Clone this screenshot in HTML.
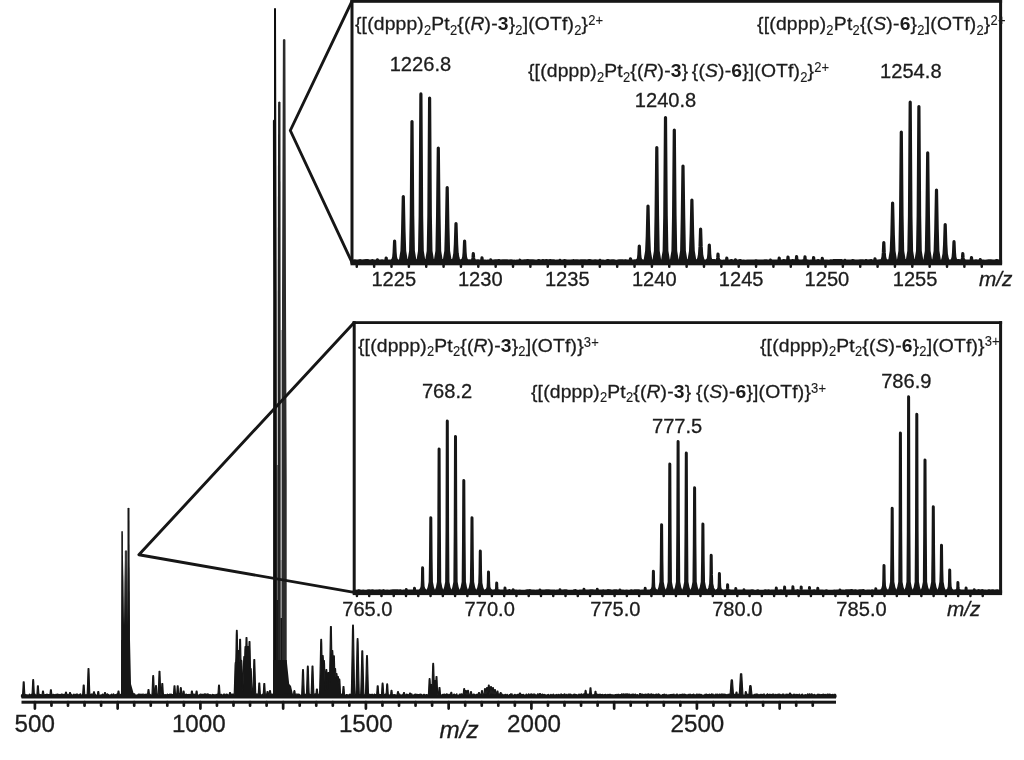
<!DOCTYPE html>
<html lang="en"><head><meta charset="utf-8"><title>ESI mass spectrum</title>
<style>
html,body{margin:0;padding:0;background:#fff;}
body{width:1024px;height:760px;position:relative;overflow:hidden;font-family:"Liberation Sans",sans-serif;color:#1c1c1c;}
.t{font-kerning:none;-webkit-text-stroke:0.3px #1c1c1c;position:absolute;white-space:nowrap;line-height:0;height:0;transform-origin:0 0;}
.fm{font-size:18.6px;letter-spacing:0.16px;transform:scaleX(1.038);}
.nm{font-size:20.1px;}
.big{font-size:24.2px;}
.ctr{transform:translateX(-50%);}
.it{font-style:italic;}
sub,sup{font-size:12.5px;line-height:0;position:relative;vertical-align:baseline;display:inline-block;transform:scaleY(1.12);-webkit-text-stroke:0.1px #1c1c1c;}
sub{top:3.4px;transform:scaleY(1.18);}
sup{top:-5.4px;}
b{font-weight:bold;-webkit-text-stroke:0;}
</style></head>
<body>
<svg width="1024" height="760" viewBox="0 0 1024 760" style="position:absolute;left:0;top:0">
<rect width="1024" height="760" fill="#fff"/>
<defs>
<linearGradient id="g1" gradientUnits="userSpaceOnUse" x1="0" y1="300" x2="0" y2="540"><stop offset="0" stop-color="#161616" stop-opacity="0"/><stop offset="0.4" stop-color="#161616" stop-opacity="0.3"/><stop offset="0.75" stop-color="#161616" stop-opacity="0.9"/><stop offset="1" stop-color="#161616" stop-opacity="1"/></linearGradient>
<linearGradient id="g2" gradientUnits="userSpaceOnUse" x1="0" y1="560" x2="0" y2="625"><stop offset="0" stop-color="#161616" stop-opacity="0"/><stop offset="0.35" stop-color="#161616" stop-opacity="0.45"/><stop offset="1" stop-color="#161616" stop-opacity="1"/></linearGradient>
</defs>
<path d="M121.3 697 V531.8 Q122.1 530.2 122.9 531.8 L123.4 697 Z" fill="#161616"/>
<path d="M124.8 697 V551 Q126 549.6 127.2 551 V697 Z" fill="#3a3a3a"/>
<path d="M127.5 697 V508.6 Q128.5 506.8 129.5 508.6 L130 697 Z" fill="#161616"/>
<rect x="121.3" y="560" width="8.6" height="137" fill="url(#g2)"/>
<path d="M121 697 L121.2 640 L130 640 L131 684 L133.5 693 L137 697 Z" fill="#161616"/>
<path d="M277.3 465 V697" stroke="#6e6e6e" stroke-width="1.2" fill="none"/>
<path d="M277.3 600 V697" stroke="#161616" stroke-width="1.4" fill="none"/>
<path d="M281.3 330 V697" stroke="#bdbdbd" stroke-width="1.6" fill="none"/>
<path d="M281.3 560 V697" stroke="#9a9a9a" stroke-width="1.6" fill="none"/>
<path d="M281.3 618 V697" stroke="#161616" stroke-width="1.8" fill="none"/>
<path d="M274 8.6 Q275 7.4 276 8.6 L276.7 300 L276.9 480 V697 H273.1 V480 L273.2 300 L272.9 120.5 L274 119.6 Z" fill="#0e0e0e"/>
<path d="M278.1 102.3 Q279.3 100.8 280.5 102.3 L280.6 300 V697 H277.7 V300 Z" fill="#242424"/>
<path d="M282.9 39.8 Q284.1 38.3 285.4 39.8 L286 300 L286.7 480 V697 H281.9 V480 L282 300 Z" fill="#2c2c2c"/>
<path d="M273 697 V660 H286.7 L287 663 L289.2 684 L291 686 L293.5 697 Z" fill="#161616"/>
<path d="M21.5 697 L21.5 694.91 L21.9 694.91 L22.1 695.17 L22.5 695.17 L22.7 693.09 L22.9 689.48 L23.1 685.58 L23.3 681.9 L24.1 681.9 L24.3 685.58 L24.5 689.48 L24.7 693.09 L24.9 694.85 L25.1 695.31 L25.5 695.31 L25.7 694.64 L26.1 694.64 L26.3 695.34 L26.7 695.34 L26.9 694.75 L27.3 694.75 L27.5 695.3 L28.5 695.26 L28.7 694.76 L29.1 694.76 L29.3 694.16 L29.7 694.16 L29.9 695.21 L30.3 695.21 L30.5 695.07 L30.9 695.07 L31.1 694.46 L31.5 694.46 L31.7 693.98 L32.1 693.98 L32.3 690.17 L32.5 685.93 L32.7 681.45 L32.9 679.6 L33.5 679.6 L33.7 681.45 L33.9 685.93 L34.1 690.17 L34.3 694.01 L34.5 695.33 L34.7 694.11 L35.1 694.11 L35.3 694.97 L35.7 694.97 L35.9 695.18 L36.7 695.22 L36.9 694.45 L37.1 691.73 L37.3 688.74 L37.5 685.9 L38.3 685.9 L38.5 688.74 L38.7 691.73 L38.9 694.45 L39.3 694.53 L39.9 694.44 L40.1 694.84 L40.5 694.84 L40.7 694.58 L41.1 694.58 L41.3 695.31 L41.9 695.31 L42.1 694.93 L42.3 693.38 L42.5 691.7 L42.7 691 L43.3 691 L43.5 691.7 L43.7 693.38 L43.9 694.76 L44.1 694.76 L44.3 694.93 L44.7 694.93 L44.9 694.52 L45.3 694.52 L45.5 694.72 L45.9 694.72 L46.1 694.95 L46.5 694.95 L46.7 694.21 L47.1 694.21 L47.3 694.35 L47.7 694.35 L47.9 695.03 L48.3 695.03 L48.5 694.54 L48.9 694.54 L49.5 694.61 L49.7 694.09 L49.9 694.09 L50.1 693.65 L50.5 689.8 L51.3 689.8 L51.7 693.65 L51.9 693.93 L52.1 695.22 L52.5 695.22 L52.7 694.77 L53.1 694.77 L53.3 694.26 L53.7 694.26 L53.9 695.17 L54.3 695.17 L54.5 694.67 L54.9 694.67 L55.1 695.34 L55.5 695.34 L55.7 694.4 L56.1 694.4 L56.3 694.25 L56.7 694.25 L56.9 694.54 L57.3 694.54 L57.5 694.09 L57.9 694.09 L58.1 694.93 L58.5 694.93 L58.7 694.36 L59.1 694.36 L59.3 694.51 L60.3 694.53 L60.5 694.72 L60.9 694.72 L61.1 694.14 L61.5 694.14 L61.7 693.98 L62.1 693.98 L62.3 694.69 L62.7 694.69 L62.9 694.4 L63.3 694.4 L63.5 695.31 L63.9 695.31 L64.1 694.35 L64.5 694.35 L65.1 694.43 L65.3 693.91 L65.5 692.66 L65.7 692.1 L66.3 692.1 L66.5 692.66 L66.7 694 L66.9 694.97 L67.1 694.82 L67.5 694.82 L67.7 694.4 L68.1 694.4 L68.3 695.37 L68.7 695.37 L68.9 694.71 L69.1 694.71 L69.3 694.28 L69.5 693.09 L69.7 692.6 L70.3 692.6 L70.5 693.09 L70.7 694.28 L70.9 695.31 L71.1 695.31 L71.3 694.25 L71.7 694.25 L71.9 695.21 L72.3 695.21 L72.5 695.03 L72.9 695.03 L73.1 694.81 L73.5 694.81 L73.7 694.09 L74.1 694.09 L74.3 695.28 L74.7 695.28 L74.9 694.73 L75.3 694.73 L75.5 694.58 L75.9 694.58 L76.1 694.07 L76.5 694.07 L77.1 694.17 L77.7 694.1 L77.9 694.98 L78.3 694.98 L78.5 694.78 L78.9 694.78 L79.5 694.86 L79.7 694.07 L80.1 694.07 L80.3 693.96 L80.7 693.96 L80.9 695.17 L81.9 695.14 L82.5 695.05 L82.7 694.21 L82.9 691.3 L83.1 688.12 L83.3 685.1 L84.1 685.1 L84.3 688.12 L84.5 691.3 L84.7 694.21 L84.9 695.01 L85.1 695.39 L85.5 695.39 L85.7 694.77 L86.1 694.77 L86.7 694.85 L86.9 694.55 L87.1 694.55 L87.3 691.97 L87.5 686.56 L87.7 680.68 L87.9 674.49 L88.1 668.7 L88.9 668.7 L89.1 674.49 L89.3 680.68 L89.5 686.56 L89.7 691.97 L89.9 694.39 L90.3 694.39 L90.5 695.32 L90.9 695.32 L91.1 694.05 L91.5 694.05 L91.7 694.23 L92.1 694.23 L92.3 694.09 L92.7 694.09 L92.9 694.2 L93.1 694.2 L93.3 693.84 L93.5 692.4 L93.7 691.8 L94.3 691.8 L94.5 692.4 L94.7 693.84 L94.9 695.15 L95.1 695.24 L95.3 694.45 L95.7 694.45 L95.9 695.31 L96.9 695.3 L97.1 695.09 L97.3 695.09 L97.5 694.43 L97.9 691.6 L98.7 691.6 L99.1 694.43 L99.3 695.32 L99.9 695.4 L100.1 695.17 L100.5 695.17 L101.1 695.25 L101.3 694.85 L101.7 694.85 L101.9 695.36 L102.3 695.36 L102.5 694.09 L102.9 694.09 L103.1 694.48 L103.5 694.48 L103.7 695.18 L104.1 695.18 L104.3 694.28 L104.5 693.09 L104.7 692.6 L105.3 692.6 L105.5 693.09 L105.7 694.28 L105.9 694.85 L106.1 695.22 L106.5 695.22 L106.7 694.13 L107.1 694.13 L107.3 693.91 L107.7 693.91 L107.9 694.7 L108.9 694.67 L109.1 695.27 L110.1 695.25 L110.3 694.89 L110.7 694.89 L110.9 695 L111.3 695 L111.5 694.16 L111.9 694.16 L112.1 695.16 L112.5 695.16 L112.7 695.37 L113.1 695.37 L113.3 693.97 L113.7 693.97 L113.9 694.61 L114.3 694.61 L114.5 695.18 L114.9 695.18 L115.1 694.59 L115.5 694.59 L115.7 695.36 L116.1 695.36 L116.3 694.61 L116.7 694.61 L116.9 693.93 L117.3 693.93 L117.5 694.11 L117.7 694.11 L118.1 691 L118.9 691 L119.3 694.18 L119.5 694.85 L119.7 694.85 L119.9 695.15 L120.3 695.15 L120.5 694.24 L120.9 694.24 L121.1 694.6 L121.5 694.6 L121.7 694.23 L122.1 694.23 L122.3 694.91 L122.7 694.91 L122.9 695.07 L123.3 695.07 L123.5 694.18 L123.9 694.18 L124.1 693.92 L124.5 693.92 L124.7 694.12 L125.1 694.12 L125.7 694.19 L126.3 694.17 L126.5 694.29 L126.9 694.29 L127.1 695.06 L127.5 695.06 L127.7 694.62 L128.1 694.62 L128.3 694.87 L128.7 694.87 L128.9 695.36 L129.9 695.36 L130.1 694.98 L131.1 695.01 L131.3 694.36 L131.7 694.36 L131.9 693.97 L132.3 693.97 L132.5 694.73 L132.9 694.73 L133.1 693.99 L133.5 693.99 L134.1 693.92 L134.7 693.97 L134.9 694.85 L135.3 694.85 L135.5 695.07 L136.5 695.06 L137.7 695.09 L137.9 694.46 L138.3 694.46 L138.5 694.05 L138.9 694.05 L139.5 694.14 L139.7 694.68 L140.1 694.68 L140.3 694.42 L140.7 694.42 L140.9 694.2 L141.3 694.2 L141.5 695.27 L141.9 695.27 L142.1 694.41 L142.5 694.41 L142.7 694.04 L143.1 694.04 L143.3 694.23 L144.3 694.27 L144.5 694.68 L144.9 694.68 L145.1 695.13 L145.5 695.13 L145.7 694.22 L146.1 694.22 L146.3 694.9 L146.7 694.9 L146.9 694.2 L147.3 694.2 L147.5 693.94 L147.7 693.56 L148.1 689.6 L148.9 689.6 L149.3 693.56 L149.5 693.98 L149.7 693.98 L149.9 694.31 L150.3 694.31 L150.5 695.14 L150.9 695.14 L151.5 695.21 L151.9 695.17 L152.1 692.53 L152.3 687.95 L152.5 682.98 L152.7 677.75 L152.9 675.6 L153.5 675.6 L153.7 677.75 L153.9 682.98 L154.1 687.95 L154.3 692.53 L154.5 694.16 L154.7 693.93 L154.9 693.93 L155.1 693.01 L155.3 690.06 L155.5 686.91 L155.7 685.6 L156.3 685.6 L156.5 686.91 L156.7 690.06 L156.9 693.01 L157.1 695.2 L157.5 695.2 L157.7 695.38 L158.1 695.38 L158.3 693.05 L158.5 688.04 L158.7 682.55 L158.9 676.74 L159.1 671.3 L159.9 671.3 L160.1 676.74 L160.3 682.55 L160.5 688.04 L160.7 693.05 L160.9 694.75 L161.1 694.75 L161.3 693.71 L161.5 690.47 L161.7 686.94 L161.9 683.6 L162.7 683.6 L162.9 686.94 L163.1 690.47 L163.3 693.71 L163.5 695.02 L164.1 694.96 L164.7 695.04 L164.9 694.52 L165.3 694.52 L165.5 695.01 L165.9 695.01 L166.1 694.77 L166.5 694.77 L166.7 695.2 L167.1 695.2 L167.3 694.03 L167.7 694.03 L167.9 694.87 L168.3 694.87 L168.5 694.71 L168.9 694.71 L169.1 694.52 L169.5 694.52 L169.7 694.04 L170.1 694.04 L170.3 694.77 L170.7 694.77 L170.9 694.02 L171.3 694.02 L171.5 694.65 L172.5 694.6 L173.1 694.61 L173.3 695.37 L173.5 694.45 L173.7 691.73 L173.9 688.74 L174.1 685.9 L174.9 685.9 L175.1 688.74 L175.3 691.73 L175.5 694.45 L175.7 694.2 L176.1 694.2 L176.3 695.14 L176.5 695.14 L176.7 694.45 L176.9 691.73 L177.1 688.74 L177.3 685.9 L178.1 685.9 L178.3 688.74 L178.5 691.73 L178.7 694.45 L178.9 694.91 L179.1 694.91 L179.3 694.62 L179.7 694.62 L179.9 693.76 L180.1 691.28 L180.3 688.61 L180.5 687.5 L181.1 687.5 L181.3 688.61 L181.5 691.28 L181.7 693.76 L181.9 694.56 L182.1 694.56 L182.3 695.03 L182.7 694.93 L182.9 693.38 L183.1 691.7 L183.3 691 L183.9 691 L184.1 691.7 L184.3 693.38 L184.5 694.64 L185.1 694.56 L185.3 694.26 L185.7 694.26 L185.9 694.03 L186.3 694.03 L186.5 694.74 L186.9 694.74 L187.1 694.48 L187.5 694.48 L187.7 694.64 L188.7 694.63 L188.9 694.36 L189.3 694.36 L189.5 694.72 L189.9 694.72 L190.1 694.6 L190.5 694.6 L190.9 694.68 L191.1 694.18 L191.5 691 L192.3 691 L192.7 694.09 L193.5 693.99 L193.7 695.01 L194.1 695.01 L194.3 694.56 L194.7 694.56 L194.9 693.99 L195.3 693.99 L195.5 694.14 L195.7 694.14 L195.9 693.38 L196.1 691.7 L196.3 691 L196.9 691 L197.1 691.7 L197.3 693.38 L197.5 694.74 L197.7 694.74 L197.9 695.29 L198.3 695.29 L198.5 695.04 L198.9 695.04 L199.1 695.29 L199.5 695.29 L199.7 694.4 L200.1 694.4 L200.3 694.22 L200.7 694.22 L200.9 694.05 L201.3 694.05 L201.5 695.17 L201.9 695.17 L202.1 694.33 L202.5 694.33 L203.1 694.41 L203.3 695.19 L203.7 695.19 L203.9 694.08 L204.3 694.08 L204.5 693.95 L204.9 693.95 L205.1 695.07 L205.5 695.07 L205.7 693.97 L206.1 693.97 L206.3 694.8 L206.7 694.8 L206.9 694.67 L207.3 694.67 L207.5 693.92 L207.9 693.92 L208.1 694.15 L208.5 694.15 L208.7 695.16 L209.1 695.16 L209.3 694.75 L209.7 694.75 L209.9 694.63 L210.3 694.63 L210.5 694.89 L210.9 694.89 L211.1 695.11 L211.5 695.11 L211.7 694.92 L212.1 694.92 L212.3 694.32 L212.7 694.32 L212.9 695.37 L213.3 695.37 L213.5 694.57 L213.9 694.57 L214.1 694.74 L214.5 694.74 L214.7 695.37 L215.1 695.37 L215.3 694.9 L215.7 694.9 L215.9 694.46 L216.3 694.46 L216.5 694.63 L216.9 694.63 L217.1 695.3 L217.5 695.3 L217.7 693.92 L217.9 693.92 L218.1 692.8 L218.3 689.74 L218.5 686.46 L218.7 685.1 L219.3 685.1 L219.5 686.46 L219.7 689.74 L219.9 692.8 L220.1 695 L220.5 695 L220.7 695.34 L221.1 695.34 L221.3 694.23 L221.7 694.23 L221.9 694.99 L222.3 694.99 L222.5 695.21 L222.9 695.21 L223.1 694.77 L223.5 694.77 L223.7 694.03 L224.1 694.03 L224.3 694.17 L224.7 694.17 L224.9 695.01 L225.3 695.01 L225.5 695.18 L225.9 695.18 L226.1 694.02 L226.5 694.02 L226.7 694.54 L227.1 694.54 L227.3 694.35 L227.7 694.35 L227.9 695.27 L228.9 695.31 L229.1 694.37 L229.3 694.28 L229.5 693.09 L229.7 692.6 L230.3 692.6 L230.5 693.09 L230.7 694.28 L230.9 693.99 L231.3 693.99 L231.5 694.45 L231.9 694.45 L232.1 694.2 L232.5 694.2 L232.7 695.27 L233.1 695.27 L233.3 694.12 L233.7 694.12 L233.9 695.3 L234.1 695.3 L234.3 691.94 L234.5 685.98 L234.7 679.49 L234.9 672.64 L235.1 665.52 L235.3 662.6 L235.7 662.6 L235.9 657.79 L236.1 646.61 L236.3 635.09 L236.5 630.4 L237.1 630.4 L237.3 635.09 L237.5 646.61 L237.7 657.79 L237.9 654.02 L238.1 650.6 L238.7 650.6 L238.9 654.02 L239.1 662.4 L239.3 658.18 L239.5 648.37 L239.7 639.3 L240.5 639.3 L240.7 648.37 L240.9 658.18 L241.1 660.6 L241.7 660.6 L241.9 663.61 L242.1 670.97 L242.3 678.06 L242.5 684.79 L242.7 691.01 L242.9 689.01 L243.1 682.3 L243.3 675.12 L243.5 667.59 L243.7 659.79 L243.9 656.6 L244.5 656.6 L244.7 658.89 L244.9 650.16 L245.1 646.6 L245.7 646.6 L245.9 646.86 L246.1 637.5 L246.9 637.5 L247.1 646.86 L247.3 656.98 L247.5 650.16 L247.7 646.6 L248.3 646.6 L248.5 650.16 L248.7 658.89 L248.9 650.3 L249.1 641.6 L249.9 641.6 L250.1 650.3 L250.3 659.72 L250.5 668.6 L251.1 668.6 L251.3 671.2 L251.5 677.54 L251.7 683.6 L251.9 689.29 L252.1 694.17 L252.3 694.17 L252.5 694.75 L252.7 694.75 L252.9 693.41 L253.1 687.44 L253.3 680.81 L253.5 673.77 L253.7 666.43 L253.9 659.6 L254.7 659.6 L254.9 666.43 L255.1 673.77 L255.3 680.81 L255.5 687.44 L255.7 693.41 L255.9 694.37 L256.1 693.93 L256.5 693.93 L256.7 694.89 L257.1 694.89 L257.3 694.15 L257.7 694.15 L257.9 694.34 L258.1 694.34 L258.3 693.53 L258.5 690.18 L258.7 686.54 L258.9 683.1 L259.7 683.1 L259.9 686.54 L260.1 690.18 L260.3 693.53 L260.5 695.32 L260.7 695.32 L260.9 695.21 L261.3 695.21 L261.9 695.29 L262.1 694.29 L262.5 694.29 L262.7 695.02 L263.1 695.02 L263.3 693.71 L263.5 690.47 L263.7 686.94 L263.9 683.6 L264.7 683.6 L264.9 686.94 L265.1 690.47 L265.3 693.71 L265.7 694.39 L266.1 694.39 L266.3 694.98 L266.5 694.98 L266.7 694.43 L267.1 691.6 L267.9 691.6 L268.3 694.43 L268.5 694.71 L268.7 695.16 L268.9 695.16 L269.1 694.81 L269.3 693.15 L269.5 691.35 L269.7 690.6 L270.3 690.6 L270.5 691.35 L270.7 693.15 L270.9 693.96 L271.5 693.94 L271.7 694.58 L272.1 694.58 L272.3 695.03 L272.7 695.03 L272.9 693.95 L273.3 693.95 L273.5 694.94 L273.9 694.94 L274.5 694.87 L274.7 695.4 L275.1 695.4 L275.3 694.83 L275.7 694.83 L275.9 694.69 L276.9 694.65 L277.1 695.1 L277.5 695.1 L277.7 694.64 L278.1 694.64 L278.3 695.39 L278.7 695.39 L278.9 695 L279.3 695 L279.5 695.27 L279.9 695.27 L280.1 694.8 L280.5 694.8 L280.7 695.34 L281.7 695.37 L281.9 694.94 L282.3 694.94 L282.5 695.05 L282.9 695.05 L283.1 694.52 L283.5 694.52 L284.1 694.61 L284.3 694.27 L284.7 694.27 L284.9 694.41 L285.3 694.41 L285.9 694.33 L286.1 694.08 L286.5 694.08 L286.7 694.82 L287.1 694.82 L287.7 694.91 L287.9 693.92 L288.3 693.92 L288.5 695.18 L288.9 695.18 L289.1 694.31 L289.5 694.31 L289.7 694.44 L290.1 694.44 L290.3 695.33 L290.7 695.33 L290.9 694.15 L291.3 694.15 L291.9 694.06 L292.1 694.46 L292.5 694.46 L292.7 694.3 L293.1 694.3 L293.3 694.18 L293.5 694.18 L293.7 693.15 L293.9 691.35 L294.1 690.6 L294.7 690.6 L294.9 691.35 L295.1 693.15 L295.3 694.64 L295.5 694.64 L295.7 694.15 L296.7 694.19 L297.3 694.16 L297.5 694.52 L297.9 694.52 L298.1 694.06 L298.5 694.06 L298.7 694.38 L299.7 694.36 L299.9 695.06 L300.3 695.06 L300.5 695.35 L300.9 695.35 L301.1 695.2 L301.5 695.2 L301.7 694.69 L301.9 689.79 L302.1 684.25 L302.3 678.33 L302.5 672.14 L302.7 669.6 L303.3 669.6 L303.5 672.14 L303.7 678.33 L303.9 684.25 L304.1 689.79 L304.3 694.46 L305.1 694.46 L305.7 694.38 L305.9 694.67 L306.3 694.67 L306.5 693.42 L306.7 687.96 L306.9 681.93 L307.1 675.52 L307.3 668.84 L307.5 666.1 L308.1 666.1 L308.3 668.84 L308.5 675.52 L308.7 681.93 L308.9 687.96 L309.1 693.42 L309.3 694.6 L309.5 694.41 L309.9 694.41 L310.1 695.3 L310.5 695.3 L310.7 694.29 L311.1 694.29 L311.3 690.79 L311.5 685 L311.7 678.76 L311.9 672.21 L312.1 666.1 L312.9 666.1 L313.1 672.21 L313.3 678.76 L313.5 685 L313.7 690.79 L313.9 695.09 L314.1 695.09 L314.3 694.29 L314.7 694.29 L314.9 693.94 L315.3 693.94 L315.5 694.66 L315.9 694.66 L316.1 693.33 L316.5 689.1 L317.3 689.1 L317.7 693.33 L317.9 694.25 L318.3 694.25 L318.5 694.47 L319.5 694.44 L319.7 689.29 L319.9 681.12 L320.1 672.28 L320.3 662.97 L320.5 653.31 L320.7 643.36 L320.9 639.3 L321.5 639.3 L321.7 643.36 L321.9 653.31 L322.1 662.97 L322.3 658.83 L322.5 655.6 L323.1 655.6 L323.3 658.83 L323.5 663.61 L323.7 660.6 L324.3 660.6 L324.5 663.61 L324.7 670.97 L324.9 678.06 L325.1 684.79 L325.3 689.79 L325.5 684.25 L325.7 678.33 L325.9 672.14 L326.1 669.6 L326.7 669.6 L326.9 672.14 L327.1 678.33 L327.3 684.25 L327.5 688.75 L327.7 683.46 L327.9 677.85 L328.1 672.6 L328.9 672.6 L329.1 677.85 L329.3 683.46 L329.5 682.92 L329.7 672.46 L329.9 661.33 L330.1 649.71 L330.3 637.7 L330.5 626.6 L331.3 626.6 L331.5 637.7 L331.7 649.71 L331.9 654.02 L332.1 650.6 L332.7 650.6 L332.9 654.02 L333.1 662.4 L333.3 663.08 L333.5 655.9 L334.3 655.9 L334.5 663.08 L334.7 670.83 L334.9 668.6 L335.5 668.6 L335.7 671.2 L335.9 677.54 L336.1 675.89 L336.3 673.6 L336.9 673.6 L337.1 675.89 L337.3 681.46 L337.5 678.68 L337.7 676.6 L338.3 676.6 L338.5 678.68 L338.7 683.73 L338.9 681.08 L339.1 679.2 L339.7 679.2 L339.9 681.08 L340.1 685.65 L340.3 689.95 L340.5 693.87 L340.7 694.17 L341.1 694.17 L341.3 694.64 L341.7 694.64 L341.9 694.07 L342.3 694.07 L342.5 694.34 L342.7 692.04 L342.9 689.2 L343.1 686.5 L343.9 686.5 L344.1 689.2 L344.3 692.04 L344.5 694.62 L344.7 694.67 L344.9 695.36 L345.9 695.39 L346.1 694.66 L346.5 694.66 L347.1 694.72 L347.3 694.95 L347.7 694.95 L347.9 695.19 L348.3 695.19 L348.5 694.88 L349.5 694.93 L349.7 694.14 L350.1 694.14 L350.3 695.4 L350.7 695.4 L350.9 694.27 L351.3 694.27 L351.5 687.61 L351.7 677.39 L351.9 666.34 L352.1 654.7 L352.3 642.62 L352.5 630.17 L352.7 625.1 L353.3 625.1 L353.5 630.17 L353.7 642.62 L353.9 654.7 L354.1 666.34 L354.3 677.39 L354.5 687.61 L354.7 694.97 L354.9 694.97 L355.1 694.84 L355.9 694.81 L356.1 689.2 L356.3 680.91 L356.5 671.94 L356.7 662.51 L356.9 652.71 L357.1 642.61 L357.3 638.5 L357.9 638.5 L358.1 642.61 L358.3 652.71 L358.5 662.51 L358.7 671.94 L358.9 680.91 L359.1 689.2 L359.3 695.33 L359.7 695.33 L360.3 695.25 L360.5 694.15 L360.7 694.15 L360.9 689.28 L361.1 682.24 L361.3 674.68 L361.5 666.75 L361.7 658.52 L361.9 650.9 L362.7 650.9 L362.9 658.52 L363.1 666.75 L363.3 674.68 L363.5 682.24 L363.7 689.28 L363.9 694.63 L364.1 695.12 L364.5 695.12 L364.7 694.84 L365.1 694.84 L365.3 693.97 L365.5 693.97 L365.7 688.42 L365.9 681.59 L366.1 674.29 L366.3 666.65 L366.5 658.73 L366.7 655.5 L367.3 655.5 L367.5 658.73 L367.7 666.65 L367.9 674.29 L368.1 681.59 L368.3 688.42 L368.5 693.99 L368.7 693.99 L368.9 694.58 L369.3 694.58 L369.5 694.32 L369.9 694.32 L370.1 695.33 L370.5 695.33 L370.7 694.3 L371.1 694.3 L371.3 694.72 L371.7 694.72 L371.9 694.27 L372.3 694.27 L372.5 694.43 L372.9 694.43 L373.1 694.97 L373.5 694.97 L373.7 695.33 L374.1 695.33 L374.3 694.01 L374.7 694.01 L374.9 695.21 L375.3 695.21 L375.5 694.69 L375.9 694.69 L376.1 694.88 L376.5 694.88 L376.7 694.45 L376.9 691.73 L377.1 688.74 L377.3 685.9 L378.1 685.9 L378.3 688.74 L378.5 691.73 L378.7 694.45 L378.9 695.01 L379.1 694.42 L379.5 694.42 L379.7 694.95 L380.1 694.95 L380.3 694.56 L380.7 694.56 L380.9 694.81 L381.3 694.81 L381.5 695.02 L381.7 691.9 L381.9 688.39 L382.1 684.65 L382.3 683.1 L382.9 683.1 L383.1 684.65 L383.3 688.39 L383.5 691.9 L383.7 694.04 L383.9 694.65 L384.3 694.65 L384.5 695.07 L384.9 695.07 L385.1 694.04 L385.5 694.04 L385.7 693.91 L386.1 693.91 L386.3 692.27 L386.5 688.93 L386.7 685.37 L386.9 683.9 L387.5 683.9 L387.7 685.37 L387.9 688.93 L388.1 692.27 L388.3 695.22 L388.5 695.26 L388.7 694.89 L389.1 694.89 L389.3 695.26 L389.7 695.26 L389.9 695.04 L390.5 695.01 L390.7 693.92 L391.1 690.4 L391.9 690.4 L392.3 693.92 L392.5 694.28 L392.7 694.28 L392.9 694.78 L393.9 694.78 L394.1 694.61 L394.5 694.61 L394.7 694.83 L395.1 694.83 L395.7 694.89 L395.9 695.31 L396.3 695.31 L396.5 694.98 L396.9 694.98 L397.1 693.95 L397.3 693.72 L397.5 692.22 L397.7 691.6 L398.3 691.6 L398.5 692.22 L398.7 693.72 L398.9 694.46 L399.3 694.46 L399.5 694.11 L399.9 694.11 L400.1 695.08 L400.5 695.08 L401.1 694.99 L401.7 695.03 L401.9 694.8 L402.3 694.8 L402.9 694.73 L403.1 693.97 L403.3 693.97 L403.5 693.09 L403.7 692.6 L404.3 692.6 L404.5 693.09 L404.7 694.09 L404.9 695.36 L405.9 695.35 L406.1 694.34 L406.5 694.34 L406.7 694.06 L407.1 694.06 L407.3 694.69 L407.7 694.69 L407.9 694.52 L408.3 694.52 L408.5 695.4 L408.9 695.4 L409.1 694.81 L409.3 694.55 L409.5 693.53 L409.7 693.1 L410.3 693.1 L410.5 693.53 L410.7 694.16 L411.3 694.12 L411.5 693.94 L411.9 693.94 L412.1 695.03 L412.5 695.03 L412.7 695.24 L413.1 695.24 L413.7 695.17 L413.9 694.62 L414.3 694.62 L414.5 694.38 L414.9 694.38 L415.1 693.99 L415.5 693.99 L415.7 694.32 L416.1 694.32 L416.3 694.43 L416.7 694.43 L416.9 694.25 L417.3 694.25 L417.5 694.71 L417.9 694.71 L418.1 694.57 L418.5 694.57 L418.7 695.34 L419.1 695.34 L419.3 694.23 L419.7 694.23 L419.9 695.05 L420.3 695.05 L420.5 694.02 L420.9 694.02 L421.1 694.43 L421.5 694.43 L421.7 694.94 L422.1 694.94 L422.3 695.21 L422.7 695.21 L422.9 695.02 L423.3 695.02 L423.5 694.45 L423.9 694.45 L424.5 694.35 L424.7 695.23 L425.1 695.23 L425.7 695.29 L425.9 694.61 L426.3 694.61 L426.9 694.53 L427.1 694.82 L427.5 694.82 L427.7 695.06 L428.1 695.06 L428.3 694.5 L428.5 693.67 L428.7 689.63 L428.9 685.21 L429.1 680.53 L429.3 678.6 L429.9 678.6 L430.1 680.53 L430.3 685.21 L430.5 689.63 L430.7 689.4 L430.9 686.01 L431.1 684.6 L431.7 684.6 L431.9 686.01 L432.1 686.45 L432.3 680.06 L432.5 673.31 L432.7 666.28 L432.9 663.4 L433.5 663.4 L433.7 666.28 L433.9 673.31 L434.1 680.06 L434.3 682.37 L434.5 680.6 L435.1 680.6 L435.3 682.37 L435.5 686.65 L435.7 686.17 L435.9 681.24 L436.1 676.6 L436.9 676.6 L437.1 681.24 L437.3 686.17 L437.5 690.79 L437.7 694.39 L437.9 694.77 L438.3 694.77 L438.5 694.89 L438.7 692.55 L438.9 689.96 L439.1 687.5 L439.9 687.5 L440.1 689.96 L440.3 692.55 L440.5 694.89 L440.7 695.06 L440.9 695.35 L441.3 695.35 L441.5 694.89 L441.9 694.89 L442.1 694.77 L442.5 694.77 L442.7 694.38 L443.1 694.38 L443.3 695.1 L443.7 695.1 L443.9 694.2 L444.3 694.2 L444.9 694.29 L445.1 694.64 L445.5 694.64 L445.7 695.09 L446.1 695.09 L446.3 693.95 L446.7 693.95 L446.9 694.93 L447.3 694.93 L447.5 694.17 L447.9 694.17 L448.1 695.05 L449.1 695.07 L449.3 694.26 L449.7 694.26 L449.9 694.96 L450.3 694.96 L450.5 693.97 L450.7 693.55 L450.9 692.4 L451.7 692.4 L452.1 694.75 L452.3 695.07 L452.7 695.07 L452.9 694.77 L453.3 694.77 L453.5 694.4 L453.9 694.4 L454.1 693.98 L454.5 693.98 L454.7 695.18 L455.1 695.18 L455.3 694.81 L455.7 694.81 L455.9 695.08 L456.3 695.08 L456.5 693.94 L456.9 693.94 L457.1 695.19 L457.5 695.19 L457.7 695.32 L458.7 695.31 L458.9 694.81 L459.3 694.81 L459.5 694.05 L460.5 694.07 L460.7 694.3 L461.1 694.3 L461.3 693.9 L461.7 693.9 L462.3 694 L462.5 694.91 L462.9 694.91 L463.1 695.12 L463.3 694.13 L463.5 691.9 L463.7 689.5 L463.9 688.5 L464.5 688.5 L464.7 689.5 L464.9 691.9 L465.1 694.13 L465.3 693.15 L465.5 691.35 L465.7 690.6 L466.3 690.6 L466.5 691.35 L466.7 693.15 L466.9 694.81 L467.1 694.75 L467.3 693.04 L467.5 691.18 L467.7 690.4 L468.3 690.4 L468.5 691.18 L468.7 693.04 L468.9 694.75 L469.1 694.98 L469.5 694.98 L469.7 694.87 L470.1 694.87 L470.3 693.72 L470.5 692.22 L470.7 691.6 L471.3 691.6 L471.5 692.22 L471.7 693.72 L471.9 693.95 L472.1 695.09 L472.5 695.09 L472.7 694.87 L473.1 694.87 L473.3 694.17 L474.3 694.17 L474.5 694.75 L474.9 694.75 L475.1 695.33 L475.5 695.33 L475.7 694.69 L476.1 694.69 L476.3 694.84 L476.7 694.84 L476.9 694.02 L477.3 694.02 L477.5 695.11 L477.9 695.11 L478.1 694.85 L478.3 694.28 L478.5 693.09 L478.7 692.6 L479.3 692.6 L479.5 693.09 L479.7 694.28 L479.9 694.78 L480.3 694.78 L480.5 694.18 L480.9 694.18 L481.1 694.25 L481.3 693.15 L481.5 691.35 L481.7 690.6 L482.3 690.6 L482.5 691.35 L482.7 693.15 L482.9 694.81 L483.1 695.31 L483.3 695.31 L483.5 694.02 L483.9 694.02 L484.1 694.16 L484.3 691.96 L484.5 689.59 L484.7 688.6 L485.3 688.6 L485.5 689.59 L485.7 691.96 L485.9 694.16 L486.1 693.8 L486.3 691.34 L486.5 688.7 L486.7 687.6 L487.3 687.6 L487.5 688.7 L487.7 691.34 L487.9 692.8 L488.1 689.74 L488.3 686.46 L488.5 685.1 L489.1 685.1 L489.3 686.46 L489.5 689.74 L489.7 692.8 L489.9 694.93 L490.1 693.41 L490.3 690.71 L490.5 687.8 L490.7 686.6 L491.3 686.6 L491.5 687.8 L491.7 690.71 L491.9 693.41 L492.1 693.8 L492.3 691.34 L492.5 688.7 L492.7 687.6 L493.3 687.6 L493.5 688.7 L493.7 691.34 L493.9 693.8 L494.1 694.5 L494.3 692.57 L494.5 690.47 L494.7 689.6 L495.3 689.6 L495.5 690.47 L495.7 692.57 L495.9 693.96 L496.5 693.97 L496.7 694.22 L497.1 691.1 L497.9 691.1 L498.3 694.22 L498.5 694.66 L498.9 694.66 L499.1 694.01 L499.5 694.01 L499.7 695.13 L499.9 694.83 L500.3 692.6 L501.1 692.6 L501.3 693.7 L501.5 694.17 L501.9 694.17 L502.5 694.24 L502.7 694.49 L503.1 694.49 L503.3 694.91 L504.3 694.92 L504.9 694.86 L505.1 694.23 L505.5 694.23 L505.7 695.28 L506.1 695.28 L506.3 695.1 L506.7 695.1 L506.9 694.27 L507.3 694.27 L507.5 695.03 L507.9 695.03 L508.1 695.3 L509.1 695.35 L509.3 694.57 L509.7 694.57 L509.9 694.91 L510.3 694.91 L510.5 693.93 L510.9 693.93 L511.1 694.07 L511.5 694.07 L511.7 693.92 L512.1 693.92 L512.3 695 L512.7 695 L512.9 695.27 L513.9 695.26 L514.1 694.65 L514.5 694.65 L514.7 694.34 L515.1 694.34 L515.3 694.73 L515.7 694.73 L515.9 695.05 L516.3 695.05 L516.5 694.77 L516.9 694.77 L517.1 694.47 L517.5 694.47 L518.1 694.39 L518.3 694.28 L518.7 694.28 L518.9 694.13 L519.3 694.13 L519.5 693.53 L519.7 693.1 L520.3 693.1 L520.5 693.53 L520.7 694.14 L521.1 694.14 L521.3 694.96 L521.7 694.96 L521.9 694.55 L522.3 694.55 L522.5 694.84 L522.9 694.84 L523.1 694.29 L523.5 694.29 L523.7 695.1 L524.1 695.1 L525.3 695.03 L525.5 695.17 L525.9 695.17 L526.1 694.07 L526.5 694.07 L526.7 694.53 L527.1 694.53 L527.3 694.91 L527.7 694.91 L527.9 694.81 L528.3 694.81 L528.5 693.91 L528.9 693.91 L529.1 694.64 L529.5 694.64 L529.7 695.05 L530.1 695.05 L530.3 694.19 L530.7 694.19 L530.9 694.42 L531.3 694.42 L531.5 693.91 L531.9 693.91 L532.1 695.25 L532.5 695.25 L532.7 694.69 L533.1 694.69 L533.3 694.17 L534.3 694.14 L534.5 694.03 L534.9 694.03 L535.1 695.34 L535.5 695.34 L535.7 694.96 L536.1 694.96 L536.3 695.22 L536.7 695.22 L536.9 695.12 L537.3 695.12 L537.5 693.94 L537.9 693.94 L538.1 694.53 L538.5 694.53 L538.7 694 L539.1 694 L539.3 694.81 L539.5 693.96 L539.7 693.6 L540.3 693.6 L540.5 693.96 L540.7 694.73 L540.9 694.73 L541.1 695.01 L541.5 695.01 L541.7 694.23 L542.1 694.23 L542.3 693.98 L542.7 693.98 L542.9 695.24 L543.3 695.24 L543.5 694.51 L544.5 694.47 L544.7 695.07 L545.1 695.07 L545.3 694.85 L545.7 694.85 L545.9 695.19 L546.3 695.19 L546.9 695.09 L547.5 695.02 L547.7 694.5 L548.1 694.5 L548.7 694.42 L548.9 695.09 L549.3 695.09 L549.5 695.38 L549.9 695.38 L550.1 694.91 L550.5 694.91 L550.7 694.38 L551.1 694.38 L551.3 695.12 L551.7 695.12 L551.9 694.93 L552.3 694.93 L552.5 695.09 L552.9 695.09 L553.1 694.21 L553.5 694.21 L553.7 694.58 L554.1 694.58 L554.3 695.31 L554.7 695.31 L555.3 695.25 L555.5 694.81 L555.9 694.81 L556.1 694.57 L556.5 694.57 L556.7 694.44 L557.1 694.44 L557.3 695.26 L557.7 695.26 L557.9 695.15 L558.3 695.15 L558.5 694.36 L558.9 694.36 L559.1 694.79 L559.5 694.79 L559.7 694.98 L560.7 694.94 L560.9 693.97 L561.3 693.97 L561.5 694.93 L561.9 694.93 L562.1 694.55 L562.5 694.55 L562.7 694.86 L563.1 694.86 L563.7 694.78 L563.9 694.1 L564.3 694.1 L564.5 693.91 L564.9 693.91 L565.1 694.85 L565.5 694.85 L565.7 695.1 L566.1 695.1 L566.3 694.31 L566.7 694.31 L566.9 695.09 L567.3 695.09 L567.5 695.39 L567.9 695.39 L568.1 694.05 L568.5 694.05 L568.7 694.76 L569.1 694.76 L569.3 694.17 L569.7 694.17 L569.9 694.79 L570.3 694.79 L570.5 694.08 L570.9 694.08 L571.1 694.71 L571.5 694.71 L571.7 695.16 L572.1 695.16 L572.3 695.38 L572.7 695.38 L572.9 694.57 L573.3 694.57 L573.5 694.44 L573.9 694.44 L574.1 694.04 L574.5 694.04 L574.7 695.27 L575.1 695.27 L575.3 694.47 L575.7 694.47 L575.9 694.84 L576.3 694.84 L576.5 694.64 L576.9 694.64 L577.1 695.18 L577.5 695.18 L577.7 694.98 L578.1 694.98 L578.3 694.62 L578.7 694.62 L578.9 694.01 L579.3 694.01 L579.5 695.24 L579.9 695.24 L580.1 694.66 L580.5 694.66 L580.7 694.19 L581.1 694.19 L581.3 693.95 L581.7 693.95 L581.9 695.1 L582.3 695.1 L582.5 695.21 L582.9 695.21 L583.1 693.99 L584.1 693.94 L584.3 694.68 L584.7 694.68 L584.9 693.04 L585.1 691.18 L585.3 690.4 L585.9 690.4 L586.1 691.18 L586.3 693.04 L586.5 694.75 L586.7 694.04 L587.1 694.04 L587.3 694.47 L587.7 694.47 L587.9 694.16 L588.3 694.16 L588.5 695.16 L588.9 695.16 L589.1 694.22 L589.5 694.22 L589.7 692.75 L589.9 690.27 L590.1 687.9 L590.9 687.9 L591.1 690.27 L591.3 692.75 L591.5 694.16 L591.9 694.16 L592.1 695.13 L592.5 695.13 L593.1 695.07 L593.3 694.8 L593.7 694.8 L593.9 694.62 L594.3 694.62 L594.5 694.82 L594.7 694.35 L595.1 691.4 L595.9 691.4 L596.3 694.31 L596.7 694.31 L596.9 694.05 L597.3 694.05 L597.5 695.34 L597.9 695.34 L598.1 694.56 L598.5 694.56 L598.7 694.26 L599.1 694.26 L599.3 695.34 L599.7 695.34 L599.9 694.14 L600.3 694.14 L600.5 695.22 L600.9 695.22 L601.1 694.5 L601.5 694.5 L602.1 694.57 L602.3 694.46 L602.7 694.46 L602.9 694.94 L603.3 694.94 L603.5 694.77 L603.9 694.77 L604.1 694.53 L604.5 694.53 L604.7 694.76 L605.1 694.76 L605.3 694.41 L605.7 694.41 L605.9 694.73 L606.9 694.74 L607.1 695.36 L607.5 695.36 L607.7 694.47 L608.1 694.47 L608.3 694.67 L608.7 694.67 L608.9 695.05 L609.3 695.05 L609.5 694.25 L610.5 694.23 L610.7 694.71 L611.1 694.71 L611.3 695.13 L611.7 695.13 L611.9 694.69 L612.3 694.69 L612.5 695.24 L613.5 695.21 L613.7 694.75 L614.1 694.75 L614.3 695.26 L614.7 695.26 L614.9 694.74 L615.3 694.74 L615.5 694.63 L615.9 694.63 L616.1 695.34 L616.5 695.34 L616.7 694.45 L617.1 694.45 L617.3 695.28 L617.7 695.28 L617.9 694.3 L618.3 694.3 L618.9 694.23 L619.1 694.63 L619.5 694.63 L619.7 695.32 L620.1 695.32 L620.3 694.64 L620.7 694.64 L620.9 694.83 L621.3 694.83 L621.5 693.97 L621.9 693.97 L622.1 695.2 L622.5 695.2 L622.7 694.11 L623.1 694.11 L623.3 693.91 L623.7 693.91 L623.9 694.3 L624.3 694.3 L624.5 694.18 L624.9 694.18 L625.1 695.11 L625.5 695.11 L625.7 693.93 L626.1 693.93 L626.3 694.66 L626.7 694.66 L626.9 693.97 L627.3 693.97 L627.9 694.03 L628.1 695.15 L628.5 695.15 L628.7 694.22 L629.1 694.22 L629.3 694 L629.7 694 L629.9 695.3 L630.3 695.3 L630.5 694.87 L630.9 694.87 L631.1 694.27 L631.5 694.27 L631.7 695.16 L632.1 695.16 L632.3 694.06 L632.7 694.06 L632.9 694.99 L633.3 694.99 L633.5 694.18 L633.9 694.18 L634.1 695.18 L634.5 695.18 L634.7 694.65 L635.1 694.65 L635.3 694.02 L635.7 694.02 L635.9 695.09 L636.3 695.09 L636.9 695.01 L637.1 694.64 L637.5 694.64 L637.7 694.92 L638.1 694.92 L638.3 695.34 L638.7 695.34 L638.9 695.13 L639.1 695.13 L639.3 694.81 L639.5 693.96 L639.7 693.6 L640.3 693.6 L640.7 694.38 L641.1 694.38 L641.3 694.06 L641.7 694.06 L641.9 695.15 L642.3 695.15 L642.5 694.22 L642.9 694.22 L643.1 695.23 L643.5 695.23 L643.7 694.6 L644.1 694.6 L644.3 694.45 L644.7 694.45 L644.9 694.86 L645.3 694.86 L645.5 694.09 L645.9 694.09 L646.1 694.57 L647.1 694.53 L647.3 694.08 L647.7 694.08 L647.9 695.24 L648.3 695.24 L648.5 693.91 L648.9 693.91 L649.1 694.46 L649.5 694.46 L649.7 694.81 L650.1 694.81 L650.3 694.2 L650.7 694.2 L650.9 695 L651.3 695 L651.5 693.91 L651.9 693.91 L652.1 694.53 L652.5 694.53 L652.7 694.86 L653.1 694.86 L653.3 694.25 L653.7 694.25 L653.9 694.74 L654.3 694.74 L654.5 695.13 L654.9 695.13 L655.1 694.28 L655.5 694.28 L655.7 695.33 L656.1 695.33 L656.3 694.17 L656.7 694.17 L656.9 695.02 L657.3 695.02 L657.5 694.44 L657.9 694.44 L658.1 693.92 L658.5 693.92 L658.7 694.52 L659.1 694.52 L659.3 694.4 L659.7 694.4 L659.9 694.93 L660.3 694.93 L660.5 695.4 L661.5 695.35 L661.7 695.18 L662.1 695.18 L662.3 694.48 L662.7 694.48 L662.9 694.75 L663.3 694.75 L663.5 694.63 L663.9 694.63 L664.1 694.06 L664.5 694.06 L664.7 695.2 L665.1 695.2 L665.3 695.06 L665.7 695.06 L665.9 694.42 L666.3 694.42 L666.5 695.37 L667.5 695.4 L667.7 694.87 L668.1 694.87 L668.3 695.24 L668.7 695.24 L668.9 694.86 L669.3 694.86 L669.5 695.06 L669.9 695.06 L670.1 694.52 L671.1 694.52 L671.3 695.09 L671.7 695.09 L671.9 694.46 L672.3 694.46 L672.5 694.69 L672.9 694.69 L673.1 695.2 L673.5 695.2 L673.7 694 L674.1 694 L674.3 695.03 L674.7 695.03 L674.9 695.18 L675.3 695.18 L675.9 695.26 L676.1 694.44 L676.5 694.44 L676.7 694.09 L677.1 694.09 L677.3 694.23 L677.7 694.23 L677.9 694.8 L678.3 694.8 L678.5 695 L678.9 695 L679.1 695.38 L679.5 695.38 L679.7 694.43 L680.1 694.43 L680.3 694.56 L680.7 694.56 L680.9 694.87 L681.3 694.87 L681.5 694.43 L681.9 694.43 L682.1 694.73 L682.5 694.73 L682.7 693.99 L683.1 693.99 L683.3 694.3 L683.7 694.3 L683.9 695.03 L684.3 695.03 L684.5 694.04 L684.9 694.04 L685.1 695.33 L685.5 695.33 L685.7 694.6 L686.1 694.6 L686.3 694.79 L686.7 694.79 L686.9 695.04 L687.3 695.04 L687.5 695.31 L687.9 695.31 L688.1 694.23 L688.5 694.23 L688.7 695.38 L689.1 695.38 L689.3 694.57 L689.7 694.57 L689.9 693.99 L690.3 693.99 L690.5 695.19 L690.9 695.19 L691.5 695.1 L691.7 694.49 L692.1 694.49 L692.3 694.64 L692.7 694.64 L692.9 694.44 L693.3 694.44 L693.5 694.18 L693.9 694.18 L694.1 695.14 L694.5 695.14 L694.7 694.94 L695.7 694.95 L695.9 695.33 L696.3 695.33 L696.5 694.07 L696.9 694.07 L697.1 694.23 L697.5 694.23 L697.7 694.33 L698.1 694.33 L698.3 695.39 L698.7 695.39 L698.9 694.13 L699.3 694.13 L699.5 694.28 L699.9 694.28 L700.1 694.7 L700.5 694.7 L700.7 694.29 L701.1 694.29 L701.3 694.72 L701.7 694.72 L701.9 695.06 L702.3 695.06 L702.5 695.24 L702.9 695.24 L703.1 695.05 L703.5 695.05 L703.7 695.34 L704.1 695.34 L704.3 694.9 L704.7 694.9 L704.9 694.28 L705.3 694.28 L705.9 694.36 L706.1 694.13 L706.5 694.13 L706.7 694.33 L707.1 694.33 L707.3 695 L707.7 695 L707.9 694.57 L708.3 694.57 L708.5 694.75 L708.9 694.75 L709.1 694.22 L709.5 694.22 L709.7 694.62 L710.1 694.62 L710.3 695 L710.7 695 L710.9 694.44 L711.3 694.44 L711.5 693.95 L711.9 693.95 L712.1 695.07 L712.5 695.07 L712.7 694.08 L713.1 694.08 L713.3 695.38 L713.7 695.38 L713.9 695.01 L714.9 695.05 L715.1 694.28 L715.5 694.28 L715.7 693.98 L716.1 693.98 L716.3 694.28 L716.7 694.28 L716.9 694.91 L717.3 694.91 L717.5 694.08 L717.9 694.08 L718.1 694.91 L718.5 694.91 L718.7 695.04 L719.1 695.04 L719.3 694.04 L719.7 694.04 L719.9 694.45 L720.3 694.45 L720.9 694.36 L721.5 694.4 L721.7 693.93 L722.1 693.93 L722.3 694.7 L722.7 694.7 L722.9 694.14 L723.3 694.14 L723.5 694.35 L723.9 694.35 L724.1 694.11 L724.5 694.11 L724.7 694.74 L725.1 694.74 L725.3 694.31 L725.7 694.31 L725.9 694.54 L726.3 694.54 L726.5 694.94 L726.9 694.94 L727.1 695.08 L727.5 695.08 L727.7 694.47 L728.1 694.47 L728.3 695.28 L728.7 695.28 L728.9 694.03 L729.3 694.03 L729.5 695.18 L729.9 695.18 L730.1 694.67 L730.3 692.28 L730.5 689.65 L730.7 686.86 L731.1 680.97 L731.3 679.9 L732.3 679.9 L732.5 680.97 L732.9 686.86 L733.1 689.65 L733.3 692.28 L733.5 694.67 L733.7 695.34 L734.1 695.34 L734.3 694.36 L734.7 694.36 L735.3 694.45 L735.7 694.35 L735.9 693.34 L736.1 692.1 L736.9 692.1 L737.3 694.51 L737.7 694.51 L737.9 694.85 L738.3 694.85 L738.5 694.17 L739.1 694.17 L739.3 693.98 L739.5 690.99 L739.7 687.73 L739.9 684.29 L740.1 680.71 L740.3 677.02 L740.5 673.8 L741.7 673.8 L741.9 677.02 L742.1 680.71 L742.3 684.29 L742.5 687.73 L742.7 690.99 L742.9 693.98 L743.1 695.24 L743.3 695.09 L743.7 695.09 L743.9 695.23 L744.3 695.23 L744.5 695.35 L744.7 695.35 L744.9 695.1 L745.1 693.72 L745.3 692.22 L745.5 691.6 L746.1 691.6 L746.3 692.22 L746.5 693.72 L746.7 694.45 L746.9 694.16 L747.3 694.16 L747.5 694.45 L747.9 694.45 L748.1 694.97 L748.5 694.97 L748.7 695.25 L748.9 694.36 L749.1 692.54 L749.5 688.51 L749.7 686.37 L749.9 685.6 L750.9 685.6 L751.1 686.37 L751.5 690.57 L751.7 692.54 L751.9 694.36 L752.1 694.76 L752.3 695.37 L752.7 695.37 L752.9 695.01 L753.9 694.98 L754.1 694.33 L754.5 694.33 L754.7 694.85 L755.1 694.85 L755.7 694.92 L755.9 693.95 L756.3 693.95 L756.5 694.64 L756.9 694.64 L757.1 694.12 L757.5 694.12 L757.7 694.47 L758.1 694.47 L758.3 695.35 L758.7 695.35 L758.9 694.78 L759.9 694.75 L760.1 694.24 L760.5 694.24 L760.7 694.88 L761.1 694.88 L761.3 694.34 L761.7 694.34 L761.9 694.59 L762.3 694.59 L762.5 695.08 L762.9 695.08 L763.1 694.11 L763.5 694.11 L763.7 695.26 L764.1 695.26 L764.3 694.17 L764.7 694.17 L764.9 695.14 L765.3 695.14 L765.5 695.4 L765.9 695.4 L766.1 695.1 L766.5 695.1 L766.7 694.26 L767.1 694.26 L767.3 693.93 L767.7 693.93 L767.9 695.39 L768.3 695.39 L768.5 694.66 L769.5 694.66 L769.7 694.2 L770.1 694.2 L770.3 695.12 L770.7 695.12 L770.9 694.66 L771.3 694.66 L771.5 694.88 L771.9 694.88 L772.1 694.15 L772.5 694.15 L772.7 695.01 L773.1 695.01 L773.3 693.98 L773.7 693.98 L773.9 694.97 L774.3 694.97 L774.5 695.08 L774.9 695.08 L775.1 694.35 L775.5 694.35 L775.7 694.65 L776.1 694.65 L776.3 695.24 L776.7 695.24 L776.9 694.45 L777.3 694.45 L777.5 695.28 L777.9 695.28 L778.1 694.22 L778.5 694.22 L778.7 694.35 L779.1 694.35 L779.3 694.22 L779.7 694.22 L779.9 694.46 L780.3 694.46 L780.5 694.87 L780.9 694.87 L782.1 694.81 L782.3 694.06 L782.7 694.06 L782.9 695.27 L783.3 695.27 L783.5 694.07 L783.9 694.07 L784.1 695.36 L784.5 695.36 L784.7 695.09 L785.1 695.09 L785.7 695.01 L785.9 694.05 L786.3 694.05 L786.5 694.65 L786.9 694.65 L787.1 694.83 L787.5 694.83 L787.7 694.07 L788.1 694.07 L788.3 695.05 L788.7 695.05 L788.9 694.71 L789.1 694.71 L789.3 694.55 L789.5 693.53 L789.7 693.1 L790.3 693.1 L790.5 693.53 L790.7 694.27 L791.1 694.27 L791.3 694.43 L791.7 694.43 L791.9 694.88 L792.9 694.91 L793.1 695.17 L793.5 695.17 L793.7 694.14 L794.1 694.14 L794.3 694.41 L794.7 694.41 L794.9 694.29 L795.3 694.29 L795.5 695.15 L795.9 695.15 L796.1 694.74 L796.5 694.74 L796.7 694.24 L797.1 694.24 L797.3 694.53 L797.7 694.53 L797.9 695.21 L798.3 695.21 L798.5 694.71 L798.9 694.71 L799.1 694.07 L799.5 694.07 L799.7 695.04 L800.1 695.04 L800.7 695.11 L800.9 694.95 L801.3 694.95 L801.5 694.35 L801.9 694.35 L802.1 694.13 L802.5 694.13 L802.7 695.17 L803.7 695.17 L803.9 695.03 L804.3 695.03 L804.5 694.91 L804.9 694.91 L805.1 694.62 L805.5 694.62 L805.7 695.16 L806.1 695.16 L806.3 694.91 L806.7 694.91 L806.9 695.12 L807.3 695.12 L807.5 693.94 L807.9 693.94 L808.1 694.31 L808.5 694.31 L808.7 695.25 L809.1 695.25 L809.3 693.96 L809.7 693.96 L809.9 695.25 L810.3 695.25 L810.5 694.82 L810.9 694.82 L811.1 693.92 L811.5 693.92 L811.7 694.21 L812.1 694.21 L812.7 694.3 L812.9 694.75 L813.3 694.75 L813.5 695.11 L813.9 695.11 L814.1 694.44 L814.5 694.44 L814.7 695.24 L815.1 695.24 L815.3 695.09 L815.7 695.09 L815.9 694.82 L816.3 694.82 L816.5 695.35 L816.9 695.35 L817.1 694.8 L817.5 694.8 L817.7 694.21 L818.1 694.21 L818.3 694.36 L818.7 694.36 L818.9 694.65 L819.3 694.65 L819.5 694.45 L819.9 694.45 L820.1 694.71 L820.5 694.71 L820.7 695.19 L821.1 695.19 L821.3 694.49 L821.7 694.49 L821.9 694.79 L822.3 694.79 L822.5 694.29 L822.9 694.29 L823.1 694.04 L823.5 694.04 L823.7 694.75 L824.1 694.75 L824.3 694.54 L824.7 694.54 L824.9 694.28 L825.3 694.28 L825.5 694.77 L825.9 694.77 L826.1 695.06 L826.5 695.06 L826.7 694.32 L827.1 694.32 L827.3 694.08 L827.7 694.08 L827.9 694.24 L828.3 694.24 L828.5 694.35 L828.9 694.35 L829.1 694.12 L829.5 694.12 L829.7 694.38 L830.1 694.38 L830.7 694.44 L830.9 694.72 L831.3 694.72 L831.5 694.93 L831.9 694.93 L832.1 694.46 L832.5 694.46 L832.7 695.25 L833.1 695.25 L833.3 694.77 L833.7 694.77 L833.9 694.23 L834.3 694.23 L834.5 694.33 L834.9 694.33 L835.1 694.46 L835.5 694.46 L835.7 695.02 L835.9 695.02 L836 697 Z" fill="#161616" stroke="#161616" stroke-width="1.2" stroke-linejoin="round"/>
<rect x="21.5" y="695" width="814.5" height="3.5" fill="#161616"/>
<rect x="21.5" y="700.7" width="814.5" height="3" fill="#161616"/>
<path d="M34.9 702 V708.6 M51.45 702 V705.7 M68 702 V705.7 M84.55 702 V705.7 M101.1 702 V705.7 M117.65 702 V708.6 M134.2 702 V705.7 M150.75 702 V705.7 M167.3 702 V705.7 M183.85 702 V705.7 M200.4 702 V708.6 M216.95 702 V705.7 M233.5 702 V705.7 M250.05 702 V705.7 M266.6 702 V705.7 M283.15 702 V708.6 M299.7 702 V705.7 M316.25 702 V705.7 M332.8 702 V705.7 M349.35 702 V705.7 M365.9 702 V708.6 M382.45 702 V705.7 M399 702 V705.7 M415.55 702 V705.7 M432.1 702 V705.7 M448.65 702 V708.6 M465.2 702 V705.7 M481.75 702 V705.7 M498.3 702 V705.7 M514.85 702 V705.7 M531.4 702 V708.6 M547.95 702 V705.7 M564.5 702 V705.7 M581.05 702 V705.7 M597.6 702 V705.7 M614.15 702 V708.6 M630.7 702 V705.7 M647.25 702 V705.7 M663.8 702 V705.7 M680.35 702 V705.7 M696.9 702 V708.6 M713.45 702 V705.7 M730 702 V705.7 M746.55 702 V705.7 M763.1 702 V705.7 M779.65 702 V708.6 M796.2 702 V705.7 M812.75 702 V705.7" stroke="#161616" stroke-width="2.7" stroke-linecap="round" fill="none"/>
<path d="M352 1.2 L290.3 130.5 L352 262.5" fill="none" stroke="#161616" stroke-width="2.9" stroke-linejoin="round"/>
<path d="M354.2 322.5 L138.9 554.8 L354.2 592.4" fill="none" stroke="#161616" stroke-width="2.9" stroke-linejoin="round"/>
<path d="M353 261 L354.7 260.89 L356.46 261.05 L358.16 261.09 L360.39 260.7 L362.35 261.17 L364.04 260.94 L366.31 260.58 L368.16 260.68 L370.24 261.3 L372.06 260.63 L373.93 260.98 L374.6 261 L376.91 260.9 L377.21 260.76 L377.39 260.46 L377.5 259.8 L377.61 260.46 L377.79 260.76 L378.09 260.9 L380.4 261 L382.1 260.96 L383.3 261 L385.43 260.76 L385.81 260.4 L386.03 259.65 L386.2 258 L386.37 259.65 L386.59 260.4 L386.97 260.76 L389.1 261 L390.8 261.21 L391.7 261 L393.1 259.41 L393.74 257.02 L394.16 252.04 L394.6 241.1 L395.04 252.04 L395.46 257.02 L396.1 259.41 L397.5 261 L399.2 260.88 L400.4 261 L401.1 256.5 L402 251 L402.6 232.02 L403.3 196.6 L404 232.02 L404.6 251 L405.5 256.5 L406.2 261 L407.9 260.72 L409.1 261 L409.8 256.5 L410.7 251 L411.3 216 L412 121.6 L412.7 216 L413.3 251 L414.2 256.5 L414.9 261 L416.6 260.86 L418 261 L418.7 256.5 L419.6 251 L420.2 216 L420.9 93.9 L421.6 216 L422.2 251 L423.1 256.5 L423.8 261 L425.5 260.65 L426.7 261 L427.4 256.5 L428.3 251 L428.9 216 L429.6 98.1 L430.3 216 L430.9 251 L431.8 256.5 L432.5 261 L434.2 260.83 L435.4 261 L436.1 256.5 L437 251 L437.6 216 L438.3 148.1 L439 216 L439.6 251 L440.5 256.5 L441.2 261 L442.9 260.77 L444.3 261 L445 256.5 L445.9 251 L446.5 227.97 L447.2 187.6 L447.9 227.97 L448.5 251 L449.4 256.5 L450.1 261 L451.8 260.56 L453.1 261 L454.06 258.01 L454.86 253.52 L455.39 244.17 L456 223.6 L456.61 244.17 L457.14 253.52 L457.94 258.01 L458.9 261 L460.6 260.89 L461.7 261 L463.1 259.41 L463.74 257.02 L464.16 252.04 L464.6 241.1 L465.04 252.04 L465.46 257.02 L466.1 259.41 L467.5 261 L469.2 260.83 L470.4 261 L472.27 260.41 L472.74 259.52 L473.03 257.67 L473.3 253.6 L473.57 257.67 L473.86 259.52 L474.33 260.41 L476.2 261 L477.9 260.73 L479.1 261 L481.23 260.75 L481.6 260.38 L481.83 259.61 L482 257.9 L482.17 259.61 L482.4 260.38 L482.77 260.75 L484.9 261 L486.6 261.3 L487.8 261 L490.12 260.91 L490.42 260.78 L490.6 260.5 L490.7 259.9 L490.8 260.5 L490.98 260.78 L491.28 260.91 L493.6 261 L495.3 260.73 L497.4 260.86 L498.91 260.65 L500.99 261.2 L502.92 260.93 L504.79 260.73 L507.05 260.83 L508.99 261.2 L511.11 260.92 L512.7 260.99 L514.12 261.22 L515.78 261.23 L517.1 261 L519.46 260.94 L519.75 260.84 L519.91 260.64 L520 260.2 L520.09 260.64 L520.25 260.84 L520.54 260.94 L522.9 261 L524.6 260.85 L526.15 260.89 L527.64 260.55 L529.66 260.77 L531.21 260.79 L532.99 260.89 L534.92 261.08 L536.59 261.29 L538.74 260.6 L540.87 261.27 L542.95 260.66 L545.08 261.06 L546.4 260.56 L548.65 261.07 L550.2 260.63 L551.64 260.74 L553.72 260.83 L555.17 261.27 L557.1 261 L559.48 260.94 L559.76 260.86 L559.92 260.69 L560 260.3 L560.08 260.69 L560.24 260.86 L560.52 260.94 L562.9 261 L564.6 260.68 L566.79 261.04 L568.87 261.08 L571.07 261.18 L573.21 260.71 L575.2 260.97 L577.24 260.9 L579.42 260.99 L580.99 260.74 L582.43 260.94 L583.78 260.92 L585.23 260.94 L587.03 260.98 L589.19 260.56 L591.33 260.92 L593.19 261.08 L595.33 260.85 L597.1 261 L599.49 260.95 L599.77 260.88 L599.92 260.73 L600 260.4 L600.08 260.73 L600.23 260.88 L600.51 260.95 L602.9 261 L604.6 261.32 L605.98 261.06 L607.91 260.57 L609.82 261.1 L612.05 260.81 L614.33 260.96 L616.12 261.27 L617.45 261.12 L619.38 260.82 L621.54 260.84 L623.31 260.97 L625.39 260.72 L627.6 261 L629.8 260.82 L630.15 260.56 L630.35 260.01 L630.5 258.8 L630.65 260.01 L630.85 260.56 L631.2 260.82 L633.4 261 L635.1 260.89 L636.4 261 L637.96 259.81 L638.54 258.02 L638.92 254.29 L639.3 246.1 L639.68 254.29 L640.06 258.02 L640.64 259.81 L642.2 261 L643.9 261.21 L645.1 261 L645.8 256.61 L646.7 251 L647.3 236.29 L648 206.1 L648.7 236.29 L649.3 251 L650.2 256.61 L650.9 261 L652.6 261.21 L653.9 261 L654.6 256.5 L655.5 251 L656.1 216 L656.8 147.6 L657.5 216 L658.1 251 L659 256.5 L659.7 261 L661.4 260.95 L662.6 261 L663.3 256.5 L664.2 251 L664.8 216 L665.5 117.6 L666.2 216 L666.8 251 L667.7 256.5 L668.4 261 L670.1 260.96 L671.4 261 L672.1 256.5 L673 251 L673.6 216 L674.3 130.1 L675 216 L675.6 251 L676.5 256.5 L677.2 261 L678.9 261.07 L680.1 261 L680.8 256.5 L681.7 251 L682.3 218.29 L683 166.1 L683.7 218.29 L684.3 251 L685.2 256.5 L685.9 261 L687.6 260.81 L689 261 L689.7 256.5 L690.6 251 L691.2 233.59 L691.9 200.1 L692.6 233.59 L693.2 251 L694.1 256.5 L694.8 261 L696.5 260.79 L697.7 261 L698.78 258.45 L699.54 254.62 L700.04 246.65 L700.6 229.1 L701.16 246.65 L701.66 254.62 L702.42 258.45 L703.5 261 L705.2 261.06 L706.4 261 L707.93 259.73 L708.52 257.82 L708.91 253.84 L709.3 245.1 L709.69 253.84 L710.08 257.82 L710.67 259.73 L712.2 261 L713.9 260.58 L715.1 261 L716.99 260.45 L717.45 259.62 L717.74 257.89 L718 254.1 L718.26 257.89 L718.55 259.62 L719.01 260.45 L720.9 261 L722.6 261.26 L723.9 261 L726.05 260.78 L726.42 260.44 L726.63 259.74 L726.8 258.2 L726.97 259.74 L727.18 260.44 L727.55 260.78 L729.7 261 L731.4 260.59 L732.6 261 L734.91 260.9 L735.21 260.76 L735.39 260.46 L735.5 259.8 L735.61 260.46 L735.79 260.76 L736.09 260.9 L738.4 261 L740.1 260.55 L741.59 261.29 L743.5 261.08 L745.59 261.28 L747.5 261.04 L749.43 261.11 L751.32 261.09 L752.84 261.08 L754.59 261.16 L755.99 260.7 L757.33 261.17 L759.55 261.07 L761.21 261.21 L763.3 261 L764.86 260.79 L766.58 260.8 L767.6 261 L769.93 260.92 L770.23 260.8 L770.4 260.55 L770.5 260 L770.6 260.55 L770.77 260.8 L771.07 260.92 L773.4 261 L775.1 261.06 L776.3 261 L778.45 260.78 L778.82 260.44 L779.03 259.74 L779.2 258.2 L779.37 259.74 L779.58 260.44 L779.95 260.78 L782.1 261 L783.8 260.59 L785.1 261 L787.16 260.68 L787.56 260.2 L787.8 259.2 L788 257 L788.2 259.2 L788.44 260.2 L788.84 260.68 L790.9 261 L792.6 260.58 L793.7 261 L795.74 260.65 L796.14 260.12 L796.39 259.02 L796.6 256.6 L796.81 259.02 L797.06 260.12 L797.46 260.65 L799.5 261 L801.2 261.2 L802.1 261 L804.15 260.66 L804.55 260.16 L804.8 259.11 L805 256.8 L805.2 259.11 L805.45 260.16 L805.85 260.66 L807.9 261 L809.6 261.28 L810.7 261 L812.8 260.72 L813.18 260.3 L813.41 259.43 L813.6 257.5 L813.79 259.43 L814.02 260.3 L814.4 260.72 L816.5 261 L818.2 260.56 L819.4 261 L821.57 260.79 L821.93 260.48 L822.14 259.83 L822.3 258.4 L822.46 259.83 L822.67 260.48 L823.03 260.79 L825.2 261 L826.9 261.02 L829.14 261.33 L830.91 260.88 L832.32 261.07 L833.83 260.67 L835.14 260.55 L837.13 260.65 L839.39 260.62 L841.56 260.65 L842.1 261 L844.48 260.94 L844.76 260.86 L844.92 260.69 L845 260.3 L845.08 260.69 L845.24 260.86 L845.52 260.94 L847.9 261 L849.6 261.13 L851.14 261.14 L852.63 260.59 L854.7 261.12 L856.86 261.13 L858.24 261.05 L860.25 260.92 L862.49 260.75 L864.75 261.12 L866.06 260.56 L868.01 261.2 L869.39 260.8 L871.42 260.68 L872.1 261 L874.31 260.83 L874.65 260.58 L874.86 260.06 L875 258.9 L875.14 260.06 L875.35 260.58 L875.69 260.83 L877.9 261 L879.6 260.94 L880.9 261 L882.34 259.52 L882.97 257.3 L883.37 252.68 L883.8 242.5 L884.23 252.68 L884.63 257.3 L885.26 259.52 L886.7 261 L888.4 260.84 L889.7 261 L890.4 256.5 L891.3 251 L891.9 234.9 L892.6 203 L893.3 234.9 L893.9 251 L894.8 256.5 L895.5 261 L897.2 260.9 L898.4 261 L899.1 256.5 L900 251 L900.6 216 L901.3 132 L902 216 L902.6 251 L903.5 256.5 L904.2 261 L905.9 260.67 L907.3 261 L908 256.5 L908.9 251 L909.5 216 L910.2 102.2 L910.9 216 L911.5 251 L912.4 256.5 L913.1 261 L914.8 260.84 L916 261 L916.7 256.5 L917.6 251 L918.2 216 L918.9 106.6 L919.6 216 L920.2 251 L921.1 256.5 L921.8 261 L923.5 261.05 L924.8 261 L925.5 256.5 L926.4 251 L927 216 L927.7 152.8 L928.4 216 L929 251 L929.9 256.5 L930.6 261 L932.3 260.86 L933.6 261 L934.3 256.5 L935.2 251 L935.8 229.09 L936.5 190.1 L937.2 229.09 L937.8 251 L938.7 256.5 L939.4 261 L941.1 261.31 L942.3 261 L943.28 258.09 L944.08 253.72 L944.6 244.62 L945.2 224.6 L945.8 244.62 L946.32 253.72 L947.12 258.09 L948.1 261 L949.8 261 L951.1 261 L952.52 259.46 L953.15 257.14 L953.57 252.31 L954 241.7 L954.43 252.31 L954.85 257.14 L955.48 259.46 L956.9 261 L958.6 260.6 L959.9 261 L961.77 260.41 L962.24 259.52 L962.53 257.67 L962.8 253.6 L963.07 257.67 L963.36 259.52 L963.83 260.41 L965.7 261 L967.4 261.11 L968.6 261 L970.71 260.74 L971.09 260.34 L971.32 259.52 L971.5 257.7 L971.68 259.52 L971.91 260.34 L972.29 260.74 L974.4 261 L976.1 260.82 L977.4 261 L979.68 260.89 L980 260.72 L980.18 260.37 L980.3 259.6 L980.42 260.37 L980.6 260.72 L980.92 260.89 L983.2 261 L984.9 261.33 L987.03 261.03 L988.64 260.89 L990.83 260.85 L992.81 261.03 L995.01 261.2 L996.59 260.55 L998.16 260.89 L1000 261" fill="#161616" stroke="#161616" stroke-width="3.2" stroke-linejoin="round"/>
<rect x="350.5" y="0" width="651.6" height="2.8" fill="#161616"/>
<rect x="350.5" y="0" width="3" height="264" fill="#161616"/>
<rect x="999.1" y="0" width="3" height="264" fill="#161616"/>
<rect x="350.5" y="260.3" width="651.6" height="5" fill="#161616"/>
<path d="M356.78 263 V266.7 M374.14 263 V266.7 M391.5 263 V266.7 M408.86 263 V266.7 M426.22 263 V266.7 M443.58 263 V266.7 M460.94 263 V266.7 M478.3 263 V266.7 M495.66 263 V266.7 M513.02 263 V266.7 M530.38 263 V266.7 M547.74 263 V266.7 M565.1 263 V266.7 M582.46 263 V266.7 M599.82 263 V266.7 M617.18 263 V266.7 M634.54 263 V266.7 M651.9 263 V266.7 M669.26 263 V266.7 M686.62 263 V266.7 M703.98 263 V266.7 M721.34 263 V266.7 M738.7 263 V266.7 M756.06 263 V266.7 M773.42 263 V266.7 M790.78 263 V266.7 M808.14 263 V266.7 M825.5 263 V266.7 M842.86 263 V266.7 M860.22 263 V266.7 M877.58 263 V266.7 M894.94 263 V266.7 M912.3 263 V266.7 M929.66 263 V266.7 M947.02 263 V266.7 M964.38 263 V266.7 M981.74 263 V266.7" stroke="#161616" stroke-width="2.5" stroke-linecap="round" fill="none"/>
<path d="M355 591 L356.7 591.2 L358.89 590.58 L361.02 591.2 L363.19 591.01 L364.76 591.23 L366.87 591.1 L369.08 590.83 L370.47 590.99 L372.56 590.71 L374.62 591.3 L376.15 591.04 L378.13 590.92 L379.63 590.75 L381.68 591.18 L383.44 590.62 L385.55 591.17 L387.08 591.01 L389.28 591.26 L391.1 590.93 L392.99 590.7 L394.48 590.69 L396.49 590.84 L398.35 590.87 L400.17 590.67 L401.51 591.35 L403.3 591 L405.76 590.88 L406.1 590.7 L406.25 590.33 L406.3 589.5 L406.35 590.33 L406.5 590.7 L406.84 590.88 L409.3 591 L411.5 591 L413.87 590.78 L414.27 590.46 L414.43 589.78 L414.5 588.3 L414.57 589.78 L414.73 590.46 L415.13 590.78 L417.5 591 L419.6 591 L421.35 589.14 L422.13 586.36 L422.4 580.56 L422.6 567.8 L422.8 580.56 L423.07 586.36 L423.85 589.14 L425.6 591 L427.8 591 L429.1 587.5 L430.15 582 L430.5 558.06 L430.8 517.8 L431.1 558.06 L431.45 582 L432.5 587.5 L433.8 591 L435.5 590.63 L436.1 591 L437.4 587.5 L438.45 582 L438.8 531 L439.1 448.9 L439.4 531 L439.75 582 L440.8 587.5 L442.1 591 L444.3 591 L445.6 587.5 L446.65 582 L447 531 L447.3 421 L447.6 531 L447.95 582 L449 587.5 L450.3 591 L452.5 591 L453.8 587.5 L454.85 582 L455.2 531 L455.5 436.5 L455.8 531 L456.15 582 L457.2 587.5 L458.5 591 L460.2 591.18 L460.8 591 L462.1 587.5 L463.15 582 L463.5 541.23 L463.8 480.4 L464.1 541.23 L464.45 582 L465.5 587.5 L466.8 591 L469 591 L470.3 587.5 L471.35 582 L471.7 558.06 L472 517.8 L472.3 558.06 L472.65 582 L473.7 587.5 L475 591 L476.7 591.03 L477.3 591 L478.75 587.8 L479.71 583 L480.03 573 L480.3 551 L480.57 573 L480.89 583 L481.85 587.8 L483.3 591 L485.5 591 L487.34 589.48 L488.06 587.2 L488.32 582.45 L488.5 572 L488.68 582.45 L488.94 587.2 L489.66 589.48 L491.5 591 L493.7 591 L495.84 590.37 L496.38 589.42 L496.58 587.45 L496.7 583.1 L496.82 587.45 L497.02 589.42 L497.56 590.37 L499.7 591 L501.4 590.97 L502 591 L504.36 590.77 L504.77 590.42 L504.93 589.7 L505 588.1 L505.07 589.7 L505.23 590.42 L505.64 590.77 L508 591 L509.7 590.58 L510.2 591 L512.67 590.9 L513.01 590.74 L513.15 590.41 L513.2 589.7 L513.25 590.41 L513.39 590.74 L513.73 590.9 L516.2 591 L517.9 591.24 L519.69 591 L521.25 591.17 L522.97 591.31 L525.04 591.21 L527.3 590.75 L528.64 590.71 L530.12 590.62 L531.47 591 L533.64 590.92 L535.89 591.28 L537 591 L539.49 590.91 L539.82 590.78 L539.96 590.5 L540 589.9 L540.04 590.5 L540.18 590.78 L540.51 590.91 L543 591 L544.7 591.03 L546.4 590.65 L548.66 590.76 L550.52 591.06 L552.78 591.09 L554.47 590.91 L555.93 591.32 L557 591 L559.48 590.9 L559.81 590.76 L559.95 590.46 L560 589.8 L560.05 590.46 L560.19 590.76 L560.52 590.9 L563 591 L564.7 590.73 L566.04 590.75 L567.69 591.27 L569.9 591.22 L571.24 591.18 L573.25 591.07 L575.54 590.59 L576.98 591.15 L579.22 591.09 L581 591 L583.44 590.86 L583.8 590.66 L583.94 590.24 L584 589.3 L584.06 590.24 L584.2 590.66 L584.56 590.86 L587 591 L588.7 591.02 L590.76 590.63 L592.38 590.76 L594.3 591 L596.74 590.86 L597.1 590.66 L597.24 590.24 L597.3 589.3 L597.36 590.24 L597.5 590.66 L597.86 590.86 L600.3 591 L602 590.94 L603.47 590.74 L604.91 591.09 L606.22 591.12 L607.72 590.58 L609.95 590.73 L612.18 591.24 L614.37 590.66 L616.12 590.63 L617 591 L619.49 590.91 L619.82 590.78 L619.96 590.5 L620 589.9 L620.04 590.5 L620.18 590.78 L620.51 590.91 L623 591 L624.7 591.22 L626.63 590.91 L628.27 591.21 L630.05 591.05 L631.49 590.73 L632.85 591.12 L634.7 590.67 L636.87 590.76 L638.58 590.67 L640.15 591.22 L642.2 591 L644.57 590.78 L644.97 590.46 L645.13 589.78 L645.2 588.3 L645.27 589.78 L645.43 590.46 L645.83 590.78 L648.2 591 L650.4 591 L652.22 589.42 L652.95 587.04 L653.21 582.09 L653.4 571.2 L653.59 582.09 L653.85 587.04 L654.58 589.42 L656.4 591 L658.6 591 L659.9 587.5 L660.95 582 L661.3 561.16 L661.6 524.7 L661.9 561.16 L662.25 582 L663.3 587.5 L664.6 591 L666.8 591 L668.1 587.5 L669.15 582 L669.5 533.8 L669.8 463.9 L670.1 533.8 L670.45 582 L671.5 587.5 L672.8 591 L674.5 590.68 L675.1 591 L676.4 587.5 L677.45 582 L677.8 531 L678.1 441.5 L678.4 531 L678.75 582 L679.8 587.5 L681.1 591 L683.3 591 L684.6 587.5 L685.65 582 L686 531 L686.3 453.1 L686.6 531 L686.95 582 L688 587.5 L689.3 591 L691 590.8 L691.6 591 L692.9 587.5 L693.95 582 L694.3 544.56 L694.6 487.8 L694.9 544.56 L695.25 582 L696.3 587.5 L697.6 591 L699.3 590.64 L699.9 591 L701.2 587.5 L702.25 582 L702.6 560.89 L702.9 524.1 L703.2 560.89 L703.55 582 L704.6 587.5 L705.9 591 L707.6 590.6 L708.2 591 L709.72 588.14 L710.63 583.84 L710.95 574.89 L711.2 555.2 L711.45 574.89 L711.77 583.84 L712.68 588.14 L714.2 591 L716.4 591 L718.27 589.61 L718.98 587.52 L719.22 583.17 L719.4 573.6 L719.58 583.17 L719.82 587.52 L720.53 589.61 L722.4 591 L724.6 591 L726.8 590.5 L727.3 589.74 L727.49 588.16 L727.6 584.7 L727.71 588.16 L727.9 589.74 L728.4 590.5 L730.6 591 L732.8 591 L735.19 590.8 L735.58 590.5 L735.73 589.88 L735.8 588.5 L735.87 589.88 L736.02 590.5 L736.41 590.8 L738.8 591 L741 591 L743.48 590.9 L743.81 590.76 L743.95 590.46 L744 589.8 L744.05 590.46 L744.19 590.76 L744.52 590.9 L747 591 L748.7 591.08 L750.21 590.93 L751.8 590.76 L753.3 590.84 L755.59 591.35 L757.82 590.63 L759.4 591.27 L760.76 591.13 L762.36 591.33 L763.67 591.2 L765.31 590.66 L766.61 591.22 L768.44 590.7 L770.18 591.28 L771.69 591.01 L773.3 591 L775.66 590.77 L776.07 590.42 L776.23 589.7 L776.3 588.1 L776.37 589.7 L776.53 590.42 L776.94 590.77 L779.3 591 L781 590.69 L781.6 591 L783.91 590.69 L784.35 590.22 L784.52 589.25 L784.6 587.1 L784.68 589.25 L784.85 590.22 L785.29 590.69 L787.6 591 L789.3 591.12 L789.9 591 L792.19 590.66 L792.64 590.14 L792.81 589.07 L792.9 586.7 L792.99 589.07 L793.16 590.14 L793.61 590.66 L795.9 591 L797.6 590.61 L798.2 591 L800.5 590.67 L800.94 590.18 L801.11 589.15 L801.2 586.9 L801.29 589.15 L801.46 590.18 L801.9 590.67 L804.2 591 L805.9 591.04 L806.5 591 L808.83 590.72 L809.25 590.3 L809.42 589.42 L809.5 587.5 L809.58 589.42 L809.75 590.3 L810.17 590.72 L812.5 591 L814.2 590.77 L814.8 591 L817.17 590.78 L817.57 590.46 L817.73 589.78 L817.8 588.3 L817.87 589.78 L818.03 590.46 L818.43 590.78 L820.8 591 L822.5 591.04 L824.51 591.2 L826.39 590.71 L827.76 591.14 L829.46 591.13 L830.82 591.2 L832.46 591.22 L834.62 590.94 L835.94 591.28 L837 591 L839.49 590.91 L839.82 590.78 L839.96 590.5 L840 589.9 L840.04 590.5 L840.18 590.78 L840.51 590.91 L843 591 L844.7 591.25 L846.27 590.7 L848.4 590.84 L849.86 590.85 L851.76 590.55 L853.58 590.91 L855.39 590.65 L857.41 591.2 L859.57 590.81 L861.58 590.86 L863.63 590.6 L865.81 591.31 L867.6 590.96 L869.43 590.98 L870.75 591.32 L872.28 590.7 L872.8 591 L875.2 590.82 L875.58 590.54 L875.74 589.97 L875.8 588.7 L875.86 589.97 L876.02 590.54 L876.4 590.82 L878.8 591 L881 591 L882.7 588.96 L883.51 585.9 L883.79 579.52 L884 565.5 L884.21 579.52 L884.49 585.9 L885.3 588.96 L887 591 L889.2 591 L890.5 587.5 L891.55 582 L891.9 553.78 L892.2 508.3 L892.5 553.78 L892.85 582 L893.9 587.5 L895.2 591 L897.4 591 L898.7 587.5 L899.75 582 L900.1 531 L900.4 432.9 L900.7 531 L901.05 582 L902.1 587.5 L903.4 591 L905.6 591 L906.9 587.5 L907.95 582 L908.3 531 L908.6 396.7 L908.9 531 L909.25 582 L910.3 587.5 L911.6 591 L913.8 591 L915.1 587.5 L916.15 582 L916.5 531 L916.8 414.2 L917.1 531 L917.45 582 L918.5 587.5 L919.8 591 L922 591 L923.3 587.5 L924.35 582 L924.7 532.05 L925 460 L925.3 532.05 L925.65 582 L926.7 587.5 L928 591 L929.7 590.75 L930.3 591 L931.6 587.5 L932.65 582 L933 553.11 L933.3 506.8 L933.6 553.11 L933.95 582 L935 587.5 L936.3 591 L938.5 591 L939.86 587.5 L940.87 582 L941.21 570.43 L941.5 545.3 L941.79 570.43 L942.13 582 L943.14 587.5 L944.5 591 L946.7 591 L948.49 589.31 L949.24 586.78 L949.51 581.5 L949.7 569.9 L949.89 581.5 L950.16 586.78 L950.91 589.31 L952.7 591 L954.9 591 L957.02 590.32 L957.57 589.3 L957.78 587.17 L957.9 582.5 L958.02 587.17 L958.23 589.3 L958.78 590.32 L960.9 591 L963.1 591 L965.46 590.77 L965.87 590.42 L966.03 589.7 L966.1 588.1 L966.17 589.7 L966.33 590.42 L966.74 590.77 L969.1 591 L971.3 591 L973.77 590.9 L974.11 590.74 L974.25 590.41 L974.3 589.7 L974.35 590.41 L974.49 590.74 L974.83 590.9 L977.3 591 L979 590.57 L980.4 591.11 L981.89 590.56 L983.79 591.01 L985.61 591.11 L987.02 591.25 L989.03 590.59 L990.46 590.94 L992.26 590.77 L993.68 590.87 L995.12 591.02 L997.28 590.67 L999.15 591.15 L1000 591" fill="#161616" stroke="#161616" stroke-width="3" stroke-linejoin="round"/>
<rect x="352.7" y="321.2" width="649.4" height="2.8" fill="#161616"/>
<rect x="352.7" y="321.2" width="3" height="272" fill="#161616"/>
<rect x="999.1" y="321.2" width="3" height="272" fill="#161616"/>
<rect x="352.7" y="590.3" width="649.4" height="4.8" fill="#161616"/>
<path d="M356.93 593 V596.1 M369.2 593 V596.1 M381.47 593 V596.1 M393.74 593 V596.1 M406.01 593 V596.1 M418.28 593 V596.1 M430.55 593 V596.1 M442.82 593 V596.1 M455.09 593 V596.1 M467.36 593 V596.1 M479.63 593 V596.1 M491.9 593 V596.1 M504.17 593 V596.1 M516.44 593 V596.1 M528.71 593 V596.1 M540.98 593 V596.1 M553.25 593 V596.1 M565.52 593 V596.1 M577.79 593 V596.1 M590.06 593 V596.1 M602.33 593 V596.1 M614.6 593 V596.1 M626.87 593 V596.1 M639.14 593 V596.1 M651.41 593 V596.1 M663.68 593 V596.1 M675.95 593 V596.1 M688.22 593 V596.1 M700.49 593 V596.1 M712.76 593 V596.1 M725.03 593 V596.1 M737.3 593 V596.1 M749.57 593 V596.1 M761.84 593 V596.1 M774.11 593 V596.1 M786.38 593 V596.1 M798.65 593 V596.1 M810.92 593 V596.1 M823.19 593 V596.1 M835.46 593 V596.1 M847.73 593 V596.1 M860 593 V596.1 M872.27 593 V596.1 M884.54 593 V596.1 M896.81 593 V596.1 M909.08 593 V596.1 M921.35 593 V596.1 M933.62 593 V596.1 M945.89 593 V596.1 M958.16 593 V596.1 M970.43 593 V596.1 M982.7 593 V596.1" stroke="#161616" stroke-width="2.5" stroke-linecap="round" fill="none"/>
</svg>
<div class="t fm" id="f1" style="left:355.1px;top:24.46px;">{[(dppp)<sub>2</sub>Pt<sub>2</sub>{(<i>R</i>)-<b>3</b>}<sub>2</sub>](OTf)<sub>2</sub>}<sup>2+</sup></div>
<div class="t fm" id="f2" style="left:527.6px;top:71.36px;word-spacing:-2px;">{[(dppp)<sub>2</sub>Pt<sub>2</sub>{(<i>R</i>)-<b>3</b>} {(<i>S</i>)-<b>6</b>}](OTf)<sub>2</sub>}<sup>2+</sup></div>
<div class="t fm" id="f3" style="left:757.2px;top:24.26px;letter-spacing:0.21px;">{[(dppp)<sub>2</sub>Pt<sub>2</sub>{(<i>S</i>)-<b>6</b>}<sub>2</sub>](OTf)<sub>2</sub>}<sup>2+</sup></div>
<div class="t fm" id="f4" style="left:357.6px;top:346.06px;">{[(dppp)<sub>2</sub>Pt<sub>2</sub>{(<i>R</i>)-<b>3</b>}<sub>2</sub>](OTf)}<sup>3+</sup></div>
<div class="t fm" id="f5" style="left:530.5px;top:391.96px;word-spacing:-0.8px;">{[(dppp)<sub>2</sub>Pt<sub>2</sub>{(<i>R</i>)-<b>3</b>} {(<i>S</i>)-<b>6</b>}](OTf)}<sup>3+</sup></div>
<div class="t fm" id="f6" style="left:760.4px;top:345.76px;">{[(dppp)<sub>2</sub>Pt<sub>2</sub>{(<i>S</i>)-<b>6</b>}<sub>2</sub>](OTf)}<sup>3+</sup></div>
<div class="t nm" id="n1" style="left:389.7px;top:64.04px;">1226.8</div>
<div class="t nm" id="n2" style="left:634.8px;top:99.84px;">1240.8</div>
<div class="t nm" id="n3" style="left:880.1px;top:71.34px;">1254.8</div>
<div class="t nm" id="n4" style="left:421.9px;top:391.34px;">768.2</div>
<div class="t nm" id="n5" style="left:652px;top:425.94px;">777.5</div>
<div class="t nm" id="n6" style="left:881.2px;top:381.04px;">786.9</div>
<div class="t nm ctr" id="a1225" style="left:393.8px;top:278.64px;">1225</div>
<div class="t nm ctr" id="a1230" style="left:480.3px;top:278.64px;">1230</div>
<div class="t nm ctr" id="a1235" style="left:567.3px;top:278.64px;">1235</div>
<div class="t nm ctr" id="a1240" style="left:654.3px;top:278.64px;">1240</div>
<div class="t nm ctr" id="a1245" style="left:741.2px;top:278.64px;">1245</div>
<div class="t nm ctr" id="a1250" style="left:826.9px;top:278.64px;">1250</div>
<div class="t nm ctr" id="a1255" style="left:915.1px;top:278.64px;">1255</div>
<div class="t nm it" id="mz1" style="left:979px;top:278.74px;font-size:20.8px;">m/z</div>
<div class="t nm ctr" id="b765" style="left:367.4px;top:608.84px;">765.0</div>
<div class="t nm ctr" id="b770" style="left:489.7px;top:608.84px;">770.0</div>
<div class="t nm ctr" id="b775" style="left:615.4px;top:608.84px;">775.0</div>
<div class="t nm ctr" id="b780" style="left:737.3px;top:608.84px;">780.0</div>
<div class="t nm ctr" id="b785" style="left:861.5px;top:608.84px;">785.0</div>
<div class="t nm it" id="mz2" style="left:947px;top:609.24px;font-size:20.8px;">m/z</div>
<div class="t big ctr" id="m500" style="left:34.7px;top:724.01px;">500</div>
<div class="t big ctr" id="m1000" style="left:198.8px;top:724.01px;">1000</div>
<div class="t big ctr" id="m1500" style="left:365.8px;top:724.01px;">1500</div>
<div class="t big ctr" id="m2000" style="left:534px;top:724.01px;">2000</div>
<div class="t big ctr" id="m2500" style="left:697.4px;top:724.01px;">2500</div>
<div class="t big it" id="mz3" style="left:439.6px;top:730.11px;">m/z</div>
</body></html>
